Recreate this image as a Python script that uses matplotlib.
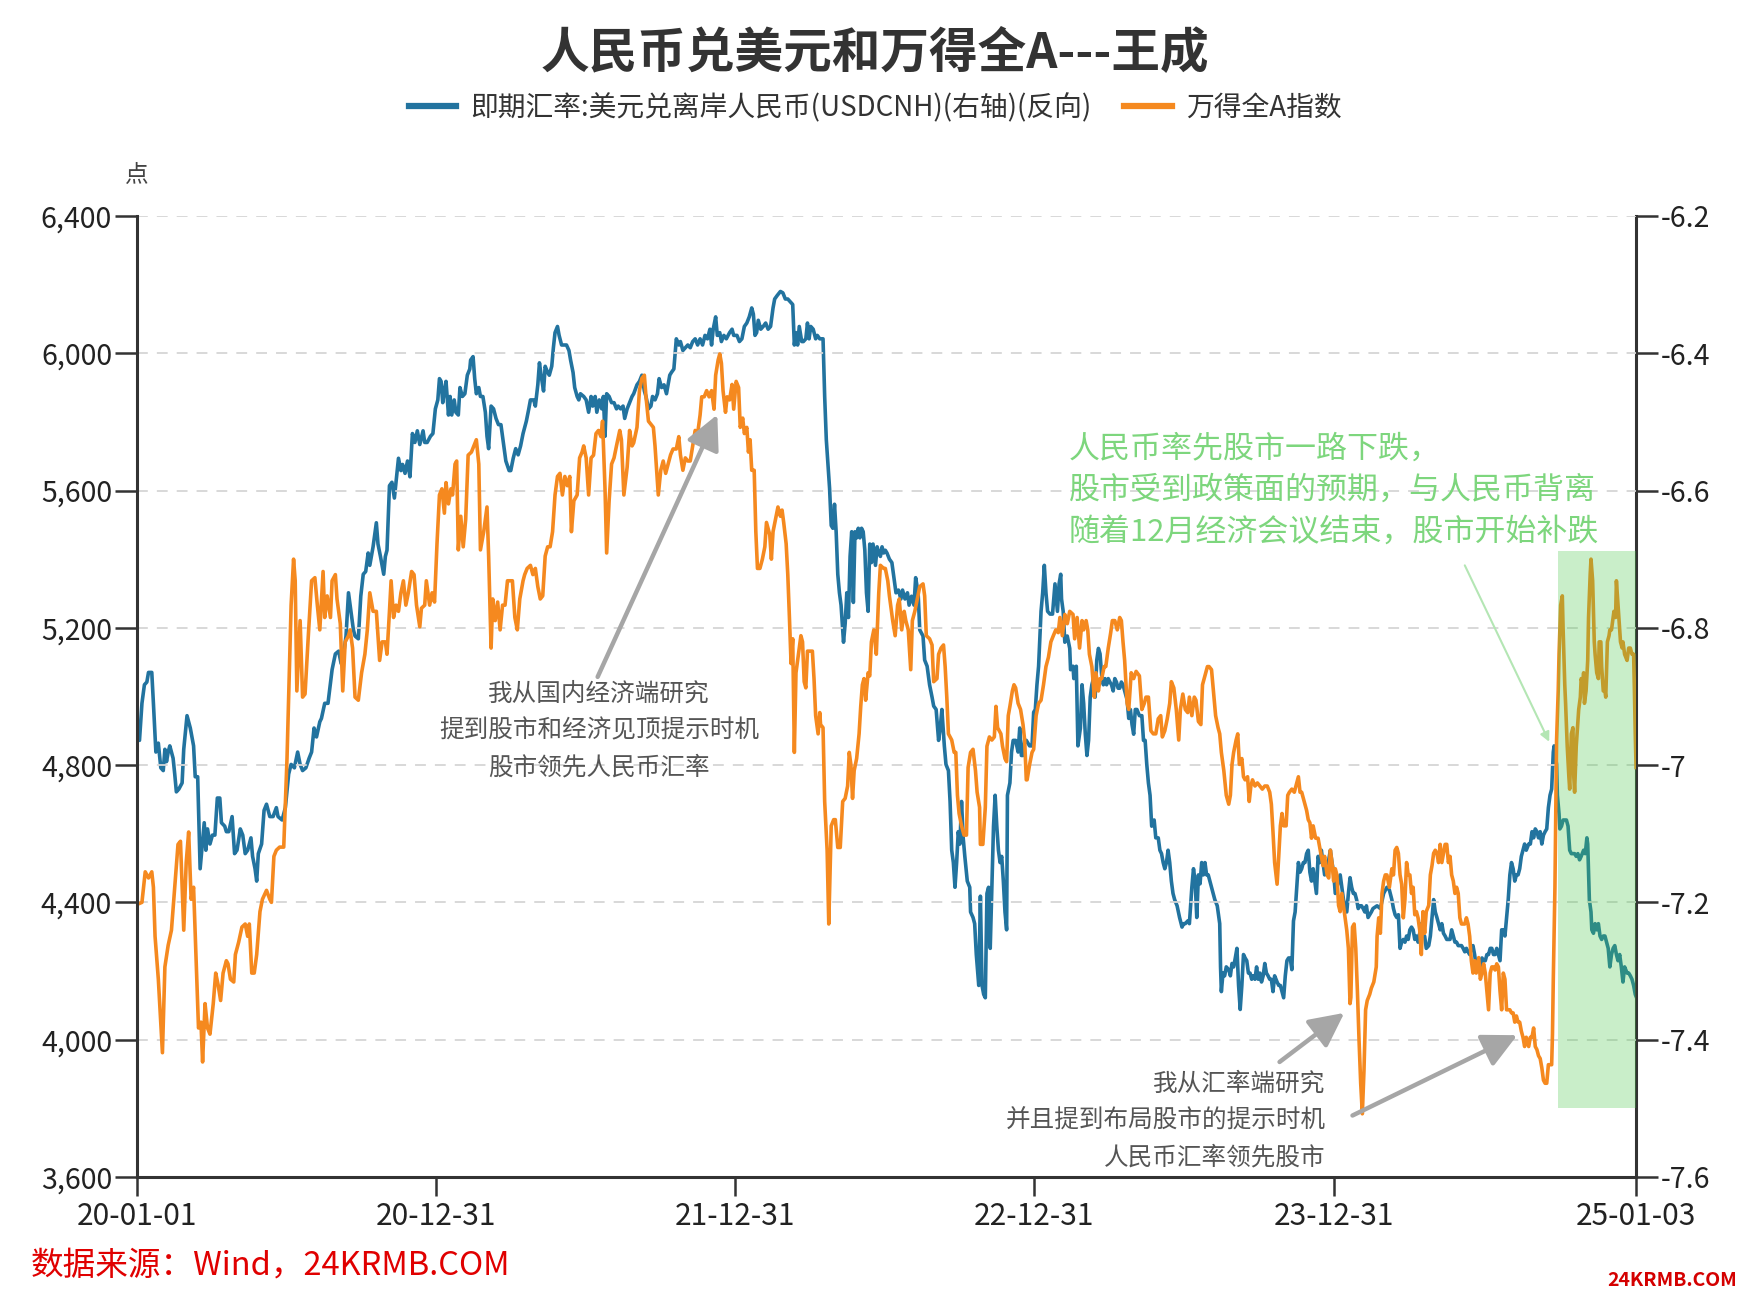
import pandas as pd
import matplotlib
matplotlib.use('Agg')
import matplotlib.pyplot as plt
import matplotlib.dates as mdates
from matplotlib.lines import Line2D

plt.rcParams['font.family'] = ['Noto Sans CJK SC', 'DejaVu Sans']

start = pd.Timestamp('2020-01-01')
end = pd.Timestamp('2025-01-03')

# 万得全A指数: day offset from 2020-01-01, index level
wind_days = [
    0, 6, 10, 14, 18, 20, 22, 26, 31, 34, 38, 42, 46, 50, 53, 57, 60, 63, 66, 69, 73, 75, 78, 80, 83, 86, 89,
    93, 96, 99, 102, 105, 109, 111, 114, 118, 120, 124, 128, 132, 135, 137, 140, 143, 146, 150, 153, 158, 162,
    164, 167, 170, 174, 179, 183, 188, 191, 193, 195, 199, 202, 205, 209, 213, 217, 220, 223, 227, 229, 232,
    236, 238, 242, 244, 248, 251, 254, 258, 260, 263, 266, 270, 274, 278, 281, 284, 288, 292, 296, 299, 303,
    305, 308, 310, 313, 316, 319, 322, 325, 328, 331, 335, 338, 341, 345, 347, 351, 353, 357, 360, 363, 366,
    369, 372, 375, 377, 380, 383, 385, 388, 390, 392, 395, 398, 401, 404, 408, 414, 417, 419, 423, 427, 429,
    432, 434, 437, 440, 443, 446, 449, 452, 455, 458, 461, 464, 467, 471, 473, 476, 480, 483, 486, 489, 492,
    495, 498, 501, 504, 507, 510, 513, 516, 519, 522, 525, 528, 530, 533, 537, 540, 543, 545, 548, 551, 554,
    557, 560, 563, 566, 568, 571, 573, 576, 579, 582, 585, 589, 591, 594, 598, 601, 604, 606, 610, 613, 616,
    619, 621, 624, 627, 630, 632, 634, 636, 639, 642, 645, 648, 651, 654, 658, 661, 663, 666, 669, 672, 675,
    678, 681, 684, 687, 689, 692, 695, 698, 701, 704, 706, 709, 711, 713, 715, 718, 720, 723, 726, 728, 731,
    734, 736, 739, 741, 744, 746, 748, 750, 753, 755, 757, 760, 763, 766, 768, 772, 774, 776, 779, 782, 785,
    787, 789, 792, 794, 796, 798, 800, 802, 804, 807, 810, 812, 814, 816, 818, 820, 824, 826, 828, 831, 833,
    834, 837, 839, 842, 844, 847, 850, 852, 855, 858, 861, 864, 867, 869, 871, 873, 875, 878, 881, 883, 885,
    887, 889, 892, 894, 896, 899, 902, 905, 907, 911, 913, 916, 918, 922, 925, 928, 930, 933, 936, 938, 941,
    944, 946, 949, 952, 955, 959, 961, 963, 967, 970, 972, 976, 978, 981, 984, 986, 988, 990, 992, 994, 997,
    999, 1001, 1003, 1006, 1009, 1012, 1014, 1017, 1020, 1023, 1025, 1028, 1029, 1032, 1035, 1037, 1040,
    1043, 1046, 1048, 1050, 1052, 1054, 1056, 1059, 1061, 1063, 1065, 1068, 1070, 1072, 1075, 1078, 1081,
    1083, 1085, 1086, 1089, 1092, 1094, 1097, 1100, 1103, 1106, 1109, 1112, 1115, 1118, 1121, 1124, 1126,
    1129, 1132, 1135, 1138, 1142, 1144, 1147, 1150, 1153, 1155, 1158, 1160, 1162, 1165, 1168, 1170, 1173,
    1175, 1177, 1180, 1182, 1185, 1188, 1190, 1193, 1196, 1199, 1201, 1203, 1205, 1208, 1210, 1213, 1216,
    1219, 1223, 1226, 1229, 1231, 1234, 1237, 1240, 1243, 1246, 1249, 1251, 1254, 1257, 1260, 1262, 1265,
    1268, 1271, 1273, 1276, 1279, 1282, 1284, 1287, 1290, 1292, 1295, 1298, 1300, 1303, 1306, 1308, 1311,
    1313, 1316, 1319, 1321, 1323, 1326, 1329, 1332, 1334, 1336, 1338, 1341, 1343, 1345, 1348, 1350, 1352,
    1355, 1357, 1359, 1361, 1364, 1367, 1370, 1373, 1376, 1379, 1382, 1384, 1386, 1388, 1391, 1393, 1395,
    1397, 1399, 1402, 1404, 1406, 1409, 1412, 1414, 1417, 1419, 1421, 1424, 1427, 1429, 1431, 1433, 1435,
    1438, 1441, 1443, 1445, 1447, 1449, 1452, 1454, 1456, 1458, 1460, 1462, 1464, 1466, 1468, 1470, 1472,
    1474, 1476, 1478, 1480, 1481, 1483, 1485, 1487, 1489, 1491, 1493, 1495, 1497, 1499, 1501, 1504, 1506,
    1509, 1512, 1513, 1515, 1517, 1519, 1521, 1523, 1525, 1528, 1529, 1531, 1533, 1535, 1537, 1539, 1541,
    1543, 1545, 1547, 1549, 1551, 1553, 1555, 1557, 1559, 1561, 1563, 1565, 1567, 1569, 1571, 1573, 1576,
    1578, 1580, 1582, 1584, 1586, 1588, 1590, 1592, 1594, 1596, 1598, 1600, 1602, 1604, 1606, 1608, 1610,
    1612, 1614, 1616, 1618, 1620, 1622, 1624, 1626, 1628, 1630, 1632, 1634, 1637, 1639, 1641, 1643, 1645,
    1647, 1649, 1651, 1653, 1655, 1657, 1659, 1661, 1663, 1665, 1667, 1669, 1671, 1673, 1675, 1677, 1679,
    1681, 1683, 1685, 1687, 1689, 1691, 1693, 1695, 1698, 1700, 1702, 1704, 1706, 1708, 1710, 1712, 1714,
    1716, 1718, 1720, 1722, 1724, 1726, 1727, 1728, 1730, 1731, 1732, 1734, 1735, 1737, 1739, 1740, 1742,
    1743, 1745, 1747, 1748, 1750, 1752, 1753, 1754, 1756, 1757, 1759, 1761, 1762, 1764, 1765, 1766, 1768,
    1770, 1771, 1773, 1774, 1776, 1778, 1779, 1781, 1783, 1784, 1786, 1787, 1789, 1791, 1792, 1794, 1796,
    1797, 1799, 1800, 1802, 1804, 1805, 1807, 1809, 1810, 1812, 1813, 1815, 1818, 1820, 1822, 1824, 1826,
    1827, 1828, 1829,
]
wind_values = [
    4394, 4400, 4489, 4471, 4489, 4444, 4301, 4176, 3962, 4212, 4275, 4319, 4444, 4569, 4578, 4319, 4516, 4605,
    4409, 4444, 4176, 4034, 4051, 3935, 4105, 4034, 4016, 4105, 4194, 4159, 4114, 4194, 4230, 4221, 4176, 4168,
    4248, 4284, 4328, 4337, 4301, 4337, 4194, 4194, 4248, 4373, 4409, 4435, 4409, 4400, 4534, 4552, 4561, 4561,
    4819, 5266, 5400, 5337, 5016, 5221, 4998, 5007, 5177, 5337, 5346, 5266, 5194, 5364, 5230, 5293, 5230, 5337,
    5355, 5284, 5212, 5016, 5159, 5177, 5194, 5141, 4998, 4989, 5069, 5123, 5194, 5302, 5248, 5248, 5105, 5159,
    5159, 5123, 5248, 5337, 5230, 5266, 5248, 5302, 5337, 5266, 5302, 5364, 5355, 5266, 5203, 5257, 5266, 5337,
    5266, 5302, 5275, 5445, 5587, 5605, 5534, 5623, 5561, 5605, 5587, 5677, 5686, 5427, 5525, 5436, 5516, 5703,
    5712, 5748, 5677, 5427, 5480, 5552, 5409, 5141, 5284, 5221, 5275, 5194, 5266, 5266, 5337, 5337, 5337, 5230,
    5194, 5284, 5337, 5355, 5373, 5382, 5355, 5373, 5320, 5284, 5293, 5409, 5436, 5436, 5480, 5587, 5641, 5650,
    5587, 5641, 5614, 5641, 5480, 5570, 5587, 5695, 5712, 5730, 5695, 5587, 5695, 5703, 5766, 5775, 5757, 5802,
    5605, 5418, 5570, 5677, 5695, 5730, 5775, 5748, 5587, 5668, 5775, 5730, 5739, 5784, 5891, 5927, 5936, 5873,
    5802, 5793, 5784, 5730, 5659, 5587, 5659, 5686, 5650, 5677, 5704, 5721, 5721, 5757, 5704, 5659, 5695, 5686,
    5686, 5730, 5775, 5766, 5820, 5873, 5873, 5891, 5873, 5891, 5837, 5936, 5980, 5998, 5971, 5891, 5828, 5873,
    5864, 5909, 5837, 5918, 5900, 5784, 5811, 5766, 5784, 5712, 5748, 5659, 5659, 5480, 5373, 5373, 5400, 5436,
    5507, 5471, 5400, 5480, 5516, 5552, 5525, 5543, 5507, 5445, 5355, 5230, 5096, 5168, 4837, 5069, 5123, 5177,
    5159, 5043, 5025, 5132, 5132, 5132, 5052, 4944, 4891, 4953, 4918, 4909, 4694, 4551, 4337, 4623, 4641, 4641,
    4560, 4560, 4694, 4703, 4739, 4837, 4801, 4703, 4784, 4819, 4891, 4971, 5034, 5052, 4989, 5069, 5060, 5159,
    5194, 5123, 5302, 5382, 5373, 5373, 5337, 5293, 5221, 5177, 5266, 5284, 5194, 5248, 5221, 5194, 5078, 5221,
    5248, 5284, 5320, 5328, 5293, 5177, 5168, 5150, 5043, 5052, 5123, 5141, 5150, 5087, 4998, 4891, 4882, 4873,
    4837, 4837, 4712, 4659, 4623, 4596, 4596, 4793, 4837, 4846, 4784, 4721, 4677, 4569, 4569, 4677, 4855, 4882,
    4873, 4882, 4971, 4909, 4900, 4891, 4855, 4819, 4810, 4944, 4971, 5016, 5034, 5025, 4980, 4962, 4918, 4873,
    4757, 4757, 4801, 4837, 4846, 4944, 4980, 4989, 5034, 5087, 5114, 5159, 5177, 5194, 5186, 5230, 5177, 5239,
    5212, 5248, 5239, 5168, 5230, 5141, 5221, 5194, 5221, 5194, 5123, 5087, 4998, 5069, 5016, 5052, 5052, 5087,
    5087, 5141, 5186, 5221, 5221, 5194, 5230, 5221, 5159, 5105, 4980, 4962, 5069, 5052, 5073, 5060, 4962, 4980,
    4998, 4998, 4900, 4891, 4891, 4935, 4944, 4882, 4900, 4935, 4980, 5043, 5025, 4962, 4873, 4962, 5007, 4962,
    4953, 4998, 4944, 4998, 4989, 4927, 4918, 5034, 5061, 5087, 5087, 5078, 5025, 4944, 4909, 4891, 4837, 4784,
    4712, 4686, 4712, 4802, 4837, 4873, 4891, 4802, 4819, 4766, 4757, 4766, 4694, 4739, 4757, 4739, 4748, 4739,
    4730, 4739, 4739, 4721, 4686, 4605, 4516, 4453, 4534, 4623, 4659, 4623, 4623, 4712, 4721, 4730, 4721, 4739,
    4766, 4721, 4721, 4694, 4668, 4641, 4632, 4587, 4623, 4587, 4587, 4560, 4534, 4507, 4534, 4480, 4471, 4552,
    4516, 4462, 4498, 4480, 4391, 4373, 4426, 4391, 4355, 4319, 4266, 4105, 4123, 4328, 4337, 4266, 4141, 3998,
    3873, 3784, 3909, 4087, 4114, 4132, 4150, 4168, 4212, 4301, 4355, 4310, 4426, 4462, 4480, 4480, 4444, 4462,
    4498, 4480, 4552, 4560, 4543, 4480, 4453, 4355, 4409, 4516, 4480, 4480, 4426, 4444, 4364, 4373, 4355, 4319,
    4248, 4373, 4310, 4373, 4391, 4480, 4507, 4543, 4552, 4543, 4516, 4569, 4516, 4543, 4569, 4569, 4516, 4534,
    4480, 4462, 4426, 4444, 4426, 4355, 4337, 4337, 4337, 4355, 4337, 4301, 4230, 4194, 4230, 4194, 4239, 4176,
    4194, 4221, 4194, 4141, 4087, 4194, 4212, 4212, 4203, 4221, 4212, 4141, 4087, 4194, 4176, 4087, 4087, 4087,
    4078, 4078, 4051, 4069, 4051, 4051, 4025, 4007, 3980, 4007, 3980, 4007, 4007, 4034, 3980, 3971, 3953, 3945,
    3918, 3882, 3873, 3873, 3927, 3927, 3927, 4016, 4176, 4444, 4659, 4873, 5016, 5123, 5266, 5293, 5194, 5034,
    4980, 4855, 4766, 4730, 4891, 4909, 4766, 4721, 4855, 4891, 4962, 4998, 5052, 5034, 5069, 4980, 5016, 5105,
    5230, 5355, 5400, 5337, 5159, 5123, 5069, 5052, 5159, 5159, 5087, 5016, 5016, 4998, 5159, 5177, 5194, 5194,
    5212, 5248, 5230, 5337, 5266, 5194, 5159, 5141, 5159, 5123, 5105, 5141, 5141, 5123, 5123, 5016, 4891, 4793,
]

# 美元兑离岸人民币 USDCNH: day offset from 2020-01-01, rate
cnh_days = [
    0, 3, 6, 9, 12, 14, 18, 20, 23, 26, 29, 32, 34, 36, 38, 40, 44, 46, 48, 51, 55, 57, 61, 65, 69, 71, 74, 77,
    79, 82, 84, 86, 89, 92, 95, 98, 101, 103, 107, 109, 112, 116, 119, 122, 126, 129, 132, 135, 139, 141, 144,
    146, 148, 152, 155, 158, 162, 166, 170, 172, 177, 181, 185, 188, 192, 196, 199, 202, 206, 210, 213, 216,
    219, 223, 225, 229, 233, 238, 242, 246, 249, 252, 255, 258, 261, 264, 266, 270, 273, 276, 279, 282, 284,
    288, 292, 294, 297, 301, 303, 305, 308, 311, 314, 316, 319, 322, 324, 327, 330, 333, 336, 339, 342, 345,
    349, 351, 354, 358, 361, 364, 367, 369, 371, 373, 375, 377, 380, 382, 384, 387, 389, 392, 394, 397, 400,
    403, 406, 407, 410, 412, 414, 417, 419, 422, 425, 427, 429, 432, 435, 438, 441, 444, 447, 450, 454, 456,
    459, 462, 465, 468, 471, 475, 478, 480, 484, 486, 489, 491, 493, 496, 498, 501, 503, 506, 508, 510, 513,
    515, 518, 521, 524, 527, 529, 532, 534, 537, 539, 541, 545, 548, 551, 554, 556, 559, 561, 564, 567, 569,
    571, 573, 576, 579, 582, 585, 587, 590, 593, 595, 598, 601, 604, 606, 610, 613, 616, 619, 621, 624, 627,
    629, 632, 635, 637, 640, 643, 646, 650, 652, 655, 658, 661, 663, 666, 669, 672, 675, 678, 681, 684, 687,
    690, 693, 696, 699, 701, 703, 706, 708, 711, 713, 716, 719, 723, 726, 728, 732, 735, 738, 741, 744, 747,
    750, 752, 754, 756, 758, 761, 764, 767, 770, 773, 776, 778, 781, 785, 788, 791, 794, 797, 800, 802, 804,
    806, 808, 811, 813, 816, 818, 820, 822, 825, 828, 830, 833, 837, 839, 841, 843, 845, 847, 849, 851, 853,
    855, 857, 859, 862, 864, 866, 868, 870, 872, 874, 876, 878, 880, 882, 884, 886, 888, 890, 892, 894, 896,
    898, 901, 903, 905, 907, 909, 911, 913, 915, 918, 921, 924, 926, 929, 932, 934, 937, 940, 942, 945, 948,
    950, 953, 955, 959, 961, 964, 967, 970, 972, 975, 978, 980, 982, 985, 987, 990, 992, 994, 996, 998, 1000,
    1002, 1004, 1006, 1008, 1010, 1013, 1016, 1017, 1020, 1022, 1024, 1027, 1029, 1031, 1033, 1035, 1037,
    1039, 1041, 1043, 1045, 1047, 1049, 1051, 1053, 1055, 1057, 1059, 1061, 1062, 1065, 1067, 1069, 1072,
    1075, 1077, 1079, 1081, 1083, 1085, 1089, 1092, 1094, 1096, 1098, 1100, 1103, 1105, 1107, 1109, 1111,
    1114, 1117, 1120, 1123, 1125, 1127, 1128, 1130, 1132, 1135, 1138, 1139, 1142, 1143, 1146, 1148, 1151,
    1153, 1155, 1157, 1159, 1161, 1163, 1165, 1167, 1169, 1171, 1173, 1175, 1177, 1179, 1181, 1183, 1185,
    1187, 1189, 1191, 1193, 1195, 1197, 1199, 1201, 1203, 1205, 1208, 1210, 1212, 1214, 1216, 1218, 1220,
    1223, 1226, 1228, 1230, 1232, 1234, 1236, 1238, 1241, 1243, 1246, 1248, 1250, 1252, 1254, 1256, 1258,
    1260, 1262, 1264, 1266, 1269, 1272, 1275, 1277, 1279, 1282, 1284, 1287, 1289, 1291, 1293, 1295, 1297,
    1299, 1301, 1303, 1305, 1307, 1309, 1311, 1313, 1315, 1318, 1321, 1322, 1323, 1325, 1327, 1329, 1332,
    1334, 1336, 1338, 1340, 1342, 1344, 1346, 1348, 1350, 1352, 1354, 1356, 1358, 1360, 1362, 1364, 1366,
    1368, 1370, 1372, 1374, 1376, 1378, 1380, 1382, 1384, 1386, 1388, 1391, 1393, 1395, 1397, 1399, 1401,
    1403, 1405, 1407, 1409, 1411, 1413, 1415, 1417, 1419, 1421, 1423, 1425, 1427, 1429, 1431, 1433, 1435,
    1437, 1439, 1441, 1443, 1445, 1447, 1449, 1452, 1454, 1456, 1458, 1460, 1462, 1464, 1466, 1468, 1470,
    1472, 1474, 1476, 1478, 1480, 1482, 1484, 1486, 1488, 1490, 1492, 1494, 1496, 1498, 1500, 1502, 1504,
    1506, 1508, 1513, 1517, 1521, 1525, 1528, 1531, 1533, 1535, 1537, 1539, 1541, 1543, 1545, 1547, 1549,
    1551, 1553, 1555, 1557, 1559, 1561, 1563, 1565, 1567, 1569, 1571, 1573, 1576, 1578, 1580, 1582, 1584,
    1586, 1588, 1590, 1592, 1594, 1596, 1598, 1600, 1602, 1604, 1606, 1608, 1610, 1612, 1614, 1616, 1618,
    1620, 1622, 1624, 1626, 1628, 1630, 1632, 1634, 1637, 1639, 1641, 1643, 1645, 1647, 1649, 1651, 1653,
    1655, 1657, 1659, 1661, 1663, 1665, 1667, 1669, 1671, 1673, 1675, 1677, 1679, 1681, 1683, 1685, 1687,
    1689, 1691, 1693, 1695, 1698, 1700, 1702, 1704, 1706, 1708, 1710, 1712, 1714, 1716, 1718, 1720, 1722,
    1724, 1726, 1728, 1729, 1731, 1732, 1733, 1735, 1736, 1738, 1740, 1742, 1744, 1746, 1748, 1750, 1752,
    1754, 1756, 1758, 1760, 1762, 1765, 1767, 1769, 1770, 1772, 1774, 1775, 1777, 1779, 1781, 1783, 1785,
    1787, 1789, 1791, 1793, 1795, 1797, 1799, 1801, 1803, 1805, 1807, 1809, 1811, 1813, 1815, 1818, 1820,
    1822, 1824, 1826, 1828, 1829,
]
cnh_values = [
    6.962, 6.964, 6.910, 6.883, 6.879, 6.865, 6.865, 6.910, 6.981, 6.968, 7.004, 7.008, 6.977, 6.995, 6.981,
    6.972, 6.990, 7.013, 7.039, 7.035, 7.026, 6.977, 6.928, 6.946, 6.972, 7.017, 7.017, 7.151, 7.124, 7.084,
    7.124, 7.093, 7.115, 7.102, 7.102, 7.048, 7.048, 7.084, 7.089, 7.097, 7.097, 7.075, 7.129, 7.124, 7.093,
    7.102, 7.129, 7.124, 7.106, 7.133, 7.151, 7.169, 7.129, 7.115, 7.066, 7.057, 7.075, 7.075, 7.062, 7.075,
    7.080, 7.062, 7.013, 6.999, 7.004, 6.981, 6.999, 7.008, 7.004, 6.990, 6.981, 6.946, 6.959, 6.937, 6.932,
    6.910, 6.910, 6.861, 6.838, 6.834, 6.852, 6.838, 6.812, 6.749, 6.776, 6.803, 6.812, 6.816, 6.754, 6.722,
    6.718, 6.691, 6.709, 6.682, 6.647, 6.678, 6.696, 6.722, 6.696, 6.687, 6.593, 6.588, 6.611, 6.588, 6.553,
    6.571, 6.562, 6.575, 6.557, 6.580, 6.517, 6.530, 6.513, 6.533, 6.513, 6.530, 6.530, 6.521, 6.517, 6.481,
    6.468, 6.437, 6.441, 6.472, 6.455, 6.441, 6.490, 6.463, 6.490, 6.468, 6.486, 6.490, 6.450, 6.463, 6.459,
    6.432, 6.423, 6.410, 6.405, 6.437, 6.459, 6.450, 6.463, 6.463, 6.486, 6.521, 6.539, 6.477, 6.481, 6.495,
    6.504, 6.504, 6.530, 6.557, 6.571, 6.571, 6.553, 6.539, 6.548, 6.535, 6.517, 6.499, 6.481, 6.468, 6.468,
    6.477, 6.446, 6.414, 6.432, 6.455, 6.419, 6.428, 6.432, 6.419, 6.392, 6.370, 6.361, 6.374, 6.388, 6.388,
    6.388, 6.396, 6.410, 6.428, 6.450, 6.463, 6.468, 6.459, 6.463, 6.468, 6.486, 6.463, 6.477, 6.463, 6.486,
    6.468, 6.481, 6.463, 6.521, 6.459, 6.463, 6.472, 6.472, 6.481, 6.477, 6.481, 6.477, 6.495, 6.481, 6.472,
    6.463, 6.459, 6.446, 6.441, 6.432, 6.455, 6.463, 6.481, 6.477, 6.463, 6.468, 6.459, 6.437, 6.450, 6.446,
    6.459, 6.432, 6.428, 6.423, 6.379, 6.388, 6.383, 6.396, 6.392, 6.388, 6.392, 6.383, 6.379, 6.388, 6.379,
    6.388, 6.374, 6.379, 6.365, 6.388, 6.365, 6.347, 6.374, 6.370, 6.383, 6.374, 6.379, 6.370, 6.365, 6.374,
    6.374, 6.383, 6.379, 6.361, 6.356, 6.347, 6.334, 6.343, 6.374, 6.370, 6.352, 6.365, 6.361, 6.356, 6.365,
    6.361, 6.334, 6.321, 6.316, 6.310, 6.312, 6.321, 6.321, 6.325, 6.329, 6.388, 6.370, 6.388, 6.361, 6.383,
    6.383, 6.379, 6.356, 6.379, 6.361, 6.365, 6.379, 6.374, 6.379, 6.379, 6.463, 6.526, 6.562, 6.597, 6.651,
    6.655, 6.620, 6.660, 6.722, 6.749, 6.767, 6.821, 6.794, 6.749, 6.785, 6.696, 6.660, 6.763, 6.660, 6.669,
    6.655, 6.669, 6.655, 6.660, 6.687, 6.749, 6.776, 6.678, 6.705, 6.678, 6.709, 6.682, 6.691, 6.696, 6.682,
    6.691, 6.687, 6.691, 6.700, 6.705, 6.731, 6.749, 6.745, 6.758, 6.745, 6.758, 6.749, 6.767, 6.754, 6.767,
    6.727, 6.749, 6.803, 6.812, 6.847, 6.856, 6.883, 6.901, 6.914, 6.919, 6.964, 6.946, 6.919, 6.972, 6.999,
    7.008, 7.053, 7.124, 7.142, 7.178, 7.142, 7.097, 7.115, 7.053, 7.106, 7.133, 7.169, 7.178, 7.214, 7.222,
    7.231, 7.276, 7.321, 7.191, 7.321, 7.334, 7.339, 7.187, 7.178, 7.267, 7.178, 7.089, 7.044, 7.089, 7.124,
    7.142, 7.133, 7.169, 7.214, 7.240, 7.044, 7.026, 6.981, 6.964, 6.964, 6.981, 6.946, 6.986, 6.986, 6.964,
    6.964, 6.972, 6.972, 6.923, 6.919, 6.883, 6.856, 6.776, 6.749, 6.709, 6.749, 6.776, 6.780, 6.780, 6.736,
    6.776, 6.736, 6.722, 6.758, 6.776, 6.821, 6.812, 6.830, 6.861, 6.856, 6.874, 6.856, 6.972, 6.946, 6.883,
    6.910, 6.955, 6.986, 6.964, 6.901, 6.883, 6.874, 6.901, 6.847, 6.830, 6.838, 6.870, 6.883, 6.874, 6.883,
    6.874, 6.879, 6.883, 6.892, 6.874, 6.879, 6.888, 6.888, 6.879, 6.883, 6.892, 6.905, 6.932, 6.919, 6.941,
    6.955, 6.919, 6.919, 6.928, 6.928, 6.964, 6.964, 6.999, 7.026, 7.044, 7.089, 7.080, 7.106, 7.106, 7.124,
    7.129, 7.142, 7.151, 7.142, 7.124, 7.142, 7.169, 7.187, 7.196, 7.205, 7.222, 7.236, 7.231, 7.231, 7.227,
    7.231, 7.178, 7.151, 7.169, 7.222, 7.160, 7.173, 7.142, 7.160, 7.142, 7.160, 7.160, 7.169, 7.178, 7.187,
    7.196, 7.205, 7.231, 7.294, 7.330, 7.303, 7.307, 7.294, 7.298, 7.307, 7.289, 7.294, 7.281, 7.267, 7.321,
    7.356, 7.321, 7.276, 7.281, 7.285, 7.303, 7.303, 7.312, 7.307, 7.312, 7.294, 7.312, 7.303, 7.316, 7.307,
    7.289, 7.303, 7.307, 7.312, 7.312, 7.330, 7.307, 7.316, 7.321, 7.321, 7.330, 7.339, 7.307, 7.285, 7.281,
    7.281, 7.298, 7.227, 7.214, 7.178, 7.142, 7.156, 7.151, 7.142, 7.142, 7.129, 7.124, 7.156, 7.169, 7.151,
    7.169, 7.187, 7.133, 7.142, 7.124, 7.142, 7.160, 7.151, 7.138, 7.124, 7.142, 7.156, 7.187, 7.178, 7.169,
    7.160, 7.178, 7.196, 7.205, 7.214, 7.187, 7.164, 7.178, 7.187, 7.187, 7.196, 7.209, 7.205, 7.205, 7.209,
    7.214, 7.205, 7.222, 7.218, 7.214, 7.209, 7.205, 7.209, 7.187, 7.178, 7.182, 7.196, 7.209, 7.218, 7.222,
    7.218, 7.267, 7.258, 7.254, 7.258, 7.249, 7.254, 7.240, 7.236, 7.240, 7.254, 7.249, 7.258, 7.245, 7.231,
    7.249, 7.249, 7.267, 7.263, 7.249, 7.222, 7.196, 7.214, 7.222, 7.231, 7.240, 7.231, 7.245, 7.249, 7.254,
    7.254, 7.254, 7.240, 7.249, 7.258, 7.258, 7.263, 7.263, 7.263, 7.267, 7.272, 7.267, 7.272, 7.276, 7.267,
    7.263, 7.276, 7.294, 7.285, 7.294, 7.281, 7.285, 7.285, 7.276, 7.276, 7.267, 7.267, 7.276, 7.276, 7.267,
    7.276, 7.285, 7.240, 7.240, 7.249, 7.222, 7.196, 7.160, 7.142, 7.151, 7.169, 7.160, 7.160, 7.151, 7.133,
    7.124, 7.115, 7.124, 7.115, 7.115, 7.097, 7.106, 7.093, 7.097, 7.106, 7.097, 7.115, 7.102, 7.097, 7.093,
    7.062, 7.044, 7.035, 6.981, 6.972, 6.990, 6.999, 7.044, 7.071, 7.093, 7.089, 7.080, 7.080, 7.080, 7.089,
    7.124, 7.129, 7.129, 7.129, 7.133, 7.129, 7.138, 7.133, 7.124, 7.129, 7.106, 7.115, 7.196, 7.214, 7.240,
    7.245, 7.231, 7.240, 7.231, 7.249, 7.254, 7.249, 7.249, 7.258, 7.267, 7.294, 7.276, 7.267, 7.263, 7.276,
    7.285, 7.276, 7.294, 7.316, 7.294, 7.303, 7.303, 7.307, 7.312, 7.321, 7.334, 7.337,
]

x_tick_dates = ['2020-01-01', '2020-12-31', '2021-12-31', '2022-12-31', '2023-12-31', '2025-01-03']
x_tick_labels = ['20-01-01', '20-12-31', '21-12-31', '22-12-31', '23-12-31', '25-01-03']
left_ticks = [3600, 4000, 4400, 4800, 5200, 5600, 6000, 6400]
right_ticks = [6.2, 6.4, 6.6, 6.8, 7.0, 7.2, 7.4, 7.6]

blue = '#22739f'
orange = '#f5891f'
dark = '#333333'


def day(n):
    return mdates.date2num(start + pd.Timedelta(days=n))


wind_dates = start + pd.to_timedelta(wind_days, unit='D')
cnh_dates = start + pd.to_timedelta(cnh_days, unit='D')

fig = plt.figure(figsize=(17.5, 13.08), dpi=100)
ax = fig.add_axes([0.0783, 0.1002, 0.8566, 0.7347])
ax2 = ax.twinx()
ax.set_zorder(ax2.get_zorder() + 1)
ax.patch.set_visible(False)

# right axis is reversed: plot the negative rate
ax2.plot(cnh_dates, [-v for v in cnh_values], color=blue, lw=2.6)
ax.plot(wind_dates, wind_values, color=orange, lw=2.6)

ax.set_xlim(start, end)
ax.set_ylim(3600, 6400)
ax2.set_ylim(-7.6, -6.2)

ax.set_yticks(left_ticks)
ax.set_yticklabels([f'{v:,}' for v in left_ticks])
ax2.set_yticks([-v for v in right_ticks])
ax2.set_yticklabels([f'-{v:g}' for v in right_ticks])
ax.set_xticks([mdates.date2num(pd.Timestamp(d)) for d in x_tick_dates])
ax.set_xticklabels(x_tick_labels)

ax.grid(axis='y', color='#d6d6d6', lw=1.3, ls=(0, (6, 5)))
ax.set_axisbelow(True)

for s in ['top', 'right']:
    ax.spines[s].set_visible(False)
for s in ['top', 'left', 'bottom']:
    ax2.spines[s].set_visible(False)
for sp in [ax.spines['left'], ax.spines['bottom'], ax2.spines['right']]:
    sp.set_color(dark)
    sp.set_linewidth(2.2)

ax.tick_params(axis='y', length=16, width=1.8, color=dark, labelsize=20.5, labelcolor='#222222', pad=2)
ax.tick_params(axis='x', length=14, width=1.8, color=dark, labelsize=21.5, labelcolor='#222222', pad=3)
ax2.tick_params(axis='y', length=16, width=1.8, color=dark, labelsize=20.5, labelcolor='#222222', pad=2)

# highlighted period
ax.fill_between([day(1734), day(1829)], 3800, 5425, color='#4cc94c', alpha=0.3, lw=0, zorder=5)

# annotations
gray = '#a6a6a6'
arrow_kw = dict(arrowstyle='-|>,head_length=0.7,head_width=0.35', color=gray, lw=3.2,
                mutation_scale=30, shrinkA=0, shrinkB=0)
ax.annotate('', xy=(day(708), 5821), xytext=(day(562), 5057), arrowprops=arrow_kw, zorder=6)
ax.text(day(564), 4901, '我从国内经济端研究\n提到股市和经济见顶提示时机\n股市领先人民币汇率',
        ha='center', va='center', fontsize=17.7, color='#555555', linespacing=1.55, zorder=6)

ax.annotate('', xy=(day(1473), 4078), xytext=(day(1394), 3935), arrowprops=arrow_kw, zorder=6)
ax.annotate('', xy=(day(1684), 4013), xytext=(day(1483), 3779), arrowprops=arrow_kw, zorder=6)
ax.text(day(1450), 3765, '我从汇率端研究\n并且提到布局股市的提示时机\n人民币汇率领先股市',
        ha='right', va='center', multialignment='right', fontsize=17.7, color='#555555',
        linespacing=1.55, zorder=6)

ax.text(day(1137), 5600, '人民币率先股市一路下跌，\n股市受到政策面的预期，与人民币背离\n随着12月经济会议结束，股市开始补跌',
        ha='left', va='center', fontsize=22.3, color='#7dd67d', linespacing=1.45, zorder=6)
ax.annotate('', xy=(day(1723), 4868), xytext=(day(1620), 5382),
            arrowprops=dict(arrowstyle='-|>', color='#b4e6b4', lw=1.5, mutation_scale=14,
                            shrinkA=0, shrinkB=0), zorder=6)

ax.text(0, 1.043, '点', transform=ax.transAxes, ha='center', va='center', fontsize=17, color='#444444')

fig.text(0.5, 1 - 54 / 1308, '人民币兑美元和万得全A---王成', ha='center', va='center',
         fontsize=35, fontweight='bold', color=dark)

handles = [Line2D([], [], color=blue, lw=4.5), Line2D([], [], color=orange, lw=4.5)]
labels = ['即期汇率:美元兑离岸人民币(USDCNH)(右轴)(反向)', '万得全A指数']
leg = fig.legend(handles, labels, loc='center', bbox_to_anchor=(0.5, 1 - 108 / 1308), ncol=2,
                 frameon=False, fontsize=20, handlelength=1.7, handletextpad=0.5, columnspacing=1.2)
for t in leg.get_texts():
    t.set_color(dark)

fig.text(31 / 1750, 1 - 1265 / 1308, '数据来源：Wind，24KRMB.COM', ha='left', va='center',
         fontsize=23.5, color='#e00000')
fig.text(1737 / 1750, 1 - 1281 / 1308, '24KRMB.COM', ha='right', va='center', fontsize=14,
         fontweight='bold', style='italic', color='#d40000')

fig.savefig('out.png', dpi=100)
